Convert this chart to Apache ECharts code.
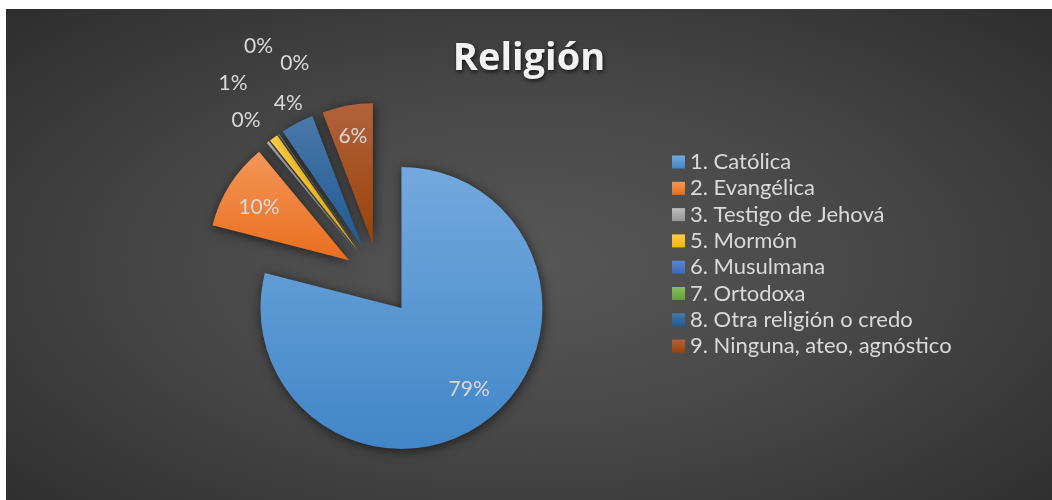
<!DOCTYPE html>
<html>
<head>
<meta charset="utf-8">
<script src="https://cdn.jsdelivr.net/npm/echarts@6/dist/echarts.min.js"></script>
<style>
  html, body { margin: 0; padding: 0; background: #ffffff; }
  #wrap { position: relative; width: 1052px; height: 500px; background: #ffffff; }
  #chart { position: absolute; left: 6px; top: 9px; width: 1046px; height: 491px;
    background: radial-gradient(ellipse 75% 80% at 50% 52%, #575757 0%, #474747 45%, #2a2a2a 100%); }
</style>
</head>
<body>
<div id="wrap"><div id="chart"></div></div>
<script>
// ---- data ----
const categories = ['1. Católica', '2. Evangélica', '3. Testigo de Jehová', '5. Mormón',
  '6. Musulmana', '7. Ortodoxa', '8. Otra religión o credo', '9. Ninguna, ateo, agnóstico'];
const values = [79.0, 10.0, 0.3, 1.0, 0.05, 0.05, 3.8, 5.8];
const chartTitle = 'Religión';

// ---- style ----
const palette = [
  ['#74a9de', '#4186c8'],
  ['#f49658', '#e86e1e'],
  ['#bdbdbd', '#959595'],
  ['#ffcc45', '#f2b800'],
  ['#5d86cf', '#3d68b8'],
  ['#86bf5e', '#64a03c'],
  ['#4a78aa', '#1f5a93'],
  ['#b2623c', '#994208']
];
const center = [373.4, 270.6];
const radius = 141;
const explode = 36;
// label placement per slice: [distance factor of radius, angle shift in degrees]
const labelPlace = [[0.75, -2], [0.74, -2], [1.22, -1], [1.48, 0], [1.61, 8.6], [1.40, 15.7], [1.15, 0.4], [0.78, 0]];

const total = values.reduce((a, b) => a + b, 0);
const mids = [];
let acc = 0;
values.forEach(v => { mids.push((acc + v / 2) / total * 360); acc += v; });

function dir(deg) { const a = deg * Math.PI / 180; return [Math.sin(a), -Math.cos(a)]; }

const chart = echarts.init(document.getElementById('chart'));
chart.setOption({
  backgroundColor: 'transparent',
  title: {
    text: chartTitle,
    left: 'center',
    top: 26,
    textStyle: {
      fontFamily: 'Open Sans', fontWeight: 'bold', fontSize: 38, color: '#f2f2f2',
      textShadowColor: 'rgba(0,0,0,0.7)', textShadowBlur: 4, textShadowOffsetX: 1, textShadowOffsetY: 2
    }
  },
  legend: {
    orient: 'vertical',
    left: 661,
    top: 137,
    itemWidth: 13,
    itemHeight: 13,
    itemGap: 4.3,
    icon: 'rect',
    data: categories,
    textStyle: { fontFamily: 'Lato', fontSize: 22, color: '#d9d9d9', lineHeight: 22 }
  },
  series: [{
    type: 'pie',
    center: center,
    radius: radius,
    startAngle: 90,
    clockwise: true,
    selectedMode: 'multiple',
    selectedOffset: explode,
    avoidLabelOverlap: false,
    animation: false,
    emphasis: { disabled: true },
    itemStyle: { shadowBlur: 12, shadowColor: 'rgba(0,0,0,0.6)', shadowOffsetX: 1, shadowOffsetY: 2 },
    label: {
      show: true,
      position: 'outside',
      formatter: p => Math.round(p.percent) + '%',
      fontFamily: 'Lato', fontSize: 21, color: '#d9d9d9'
    },
    labelLine: { show: false },
    labelLayout: function (p) {
      const i = p.dataIndex;
      const m = mids[i];
      const d = dir(m);
      const vx = center[0] + explode * d[0], vy = center[1] + explode * d[1];
      const pl = labelPlace[i];
      const d2 = dir(m + pl[1]);
      const tx = vx + pl[0] * radius * d2[0], ty = vy + pl[0] * radius * d2[1];
      const r = p.labelRect;
      // labelRect does not include the explode shift, which is applied afterwards
      const cx = r.x + r.width / 2 + explode * d[0], cy = r.y + r.height / 2 + explode * d[1];
      return { dx: tx - cx, dy: ty - cy };
    },
    data: categories.map((c, i) => ({
      name: c,
      value: values[i],
      selected: true,
      itemStyle: {
        color: new echarts.graphic.LinearGradient(0, 0, 0, 1, [
          { offset: 0, color: palette[i][0] }, { offset: 1, color: palette[i][1] }
        ])
      }
    }))
  }]
});
</script>
</body>
</html>
